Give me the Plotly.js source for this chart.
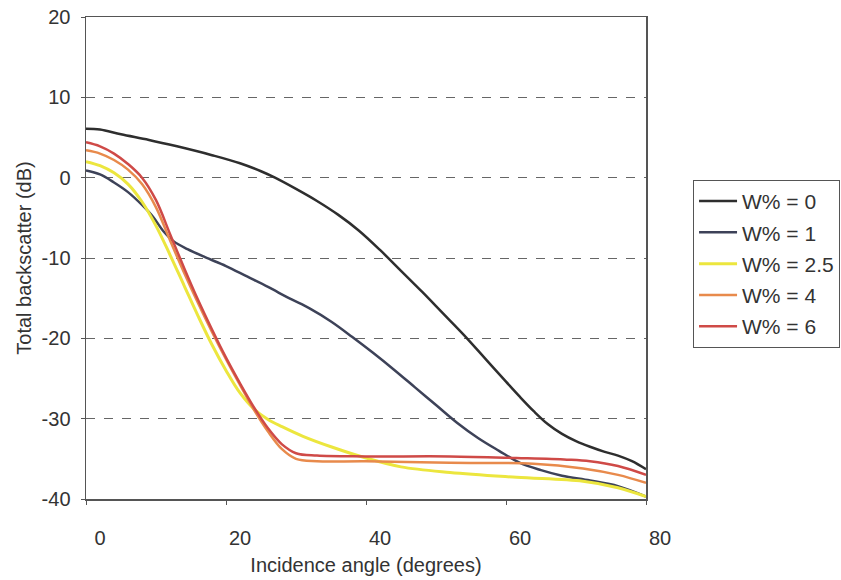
<!DOCTYPE html>
<html>
<head>
<meta charset="utf-8">
<script src="https://cdn.plot.ly/plotly-3.0.1.min.js"></script>
<style>html,body{margin:0;padding:0;background:#fff;}#chart{width:841px;height:580px;}</style>
</head>
<body>
<div id="chart"></div>
<script>
// Series names
const seriesNames = ['W% = 0', 'W% = 1', 'W% = 2.5', 'W% = 4', 'W% = 6'];

// W% = 0
const angleW0 = [0, 2, 5, 9, 13, 18, 22, 25, 27, 30, 33, 36, 39, 42, 45, 48, 51, 54, 57, 60, 62, 64, 66, 68, 70, 72, 74, 76, 78, 80];
const dbW0 = [6.1, 6.0, 5.4, 4.7, 3.9, 2.8, 1.8, 0.8, 0, -1.4, -2.9, -4.6, -6.6, -9.0, -11.6, -14.2, -16.9, -19.6, -22.5, -25.4, -27.3, -29.1, -30.7, -31.9, -32.8, -33.5, -34.1, -34.6, -35.3, -36.3];

// W% = 1
const angleW1 = [0, 2, 4, 6, 8, 9.6, 11, 12.5, 14.5, 17, 20, 23, 26, 29, 32, 35, 38, 41, 44, 47, 50, 53, 56, 59, 62, 65, 68, 72, 76, 80];
const dbW1 = [0.9, 0.4, -0.6, -1.8, -3.4, -4.9, -6.6, -7.9, -8.9, -9.9, -11.0, -12.3, -13.6, -15.0, -16.3, -17.9, -19.8, -21.8, -23.9, -26.1, -28.3, -30.5, -32.4, -34.0, -35.5, -36.4, -37.1, -37.7, -38.4, -39.7];

// W% = 2.5
const angleW25 = [0, 2, 4, 6, 8, 10, 12, 14, 16, 18, 20, 22, 24, 26, 28, 31, 35, 40, 45, 52, 61.5, 71, 76, 80];
const dbW25 = [2.0, 1.5, 0.6, -0.8, -3.0, -6.0, -9.6, -13.4, -17.2, -20.8, -24.0, -26.8, -28.8, -30.1, -31.0, -32.2, -33.5, -34.9, -36.0, -36.7, -37.3, -37.8, -38.6, -39.7];

// W% = 4
const angleW4 = [0, 2, 4, 6, 8, 10, 12, 14, 16, 18, 20, 22, 24, 26, 28, 30, 33, 40, 52, 63.9, 71, 76, 80];
const dbW4 = [3.4, 3.0, 2.2, 1.0, -0.8, -3.7, -7.8, -11.8, -15.6, -19.2, -22.6, -25.8, -28.9, -31.6, -33.8, -35.0, -35.3, -35.3, -35.5, -35.6, -36.2, -37.0, -38.0];

// W% = 6
const angleW6 = [0, 2, 4, 6, 8, 10, 12, 14, 16, 18, 20, 22, 24, 26, 28, 30, 33, 40, 52, 61.5, 68.7, 72, 76, 80];
const dbW6 = [4.4, 3.9, 3.0, 1.7, 0.0, -2.8, -7.0, -11.2, -15.2, -18.9, -22.4, -25.6, -28.6, -31.2, -33.2, -34.3, -34.6, -34.7, -34.7, -34.9, -35.1, -35.3, -35.9, -37.0];

const xTicks = [0, 20, 40, 60, 80];
const yTicks = [-40, -30, -20, -10, 0, 10, 20];

const colors = ['#2e2e2e', '#3d4258', '#ece63e', '#e88a4c', '#cf4a47'];
const xs = [angleW0, angleW1, angleW25, angleW4, angleW6];
const ys = [dbW0, dbW1, dbW25, dbW4, dbW6];

const traces = seriesNames.map((name, i) => ({
  type: 'scatter',
  mode: 'lines',
  name: name,
  x: xs[i],
  y: ys[i],
  legendgroup: 'g' + i,
  line: {color: colors[i], width: i === 2 ? 3 : 2.5, shape: 'spline', smoothing: 1}
}));

const font = {family: 'Liberation Sans, Arial, sans-serif', size: 20, color: '#333'};
const legendFont = {family: 'Liberation Sans, Arial, sans-serif', size: 21, color: '#333'};

const layout = {
  width: 841,
  height: 580,
  margin: {l: 86, r: 195, t: 17, b: 81, autoexpand: false},
  paper_bgcolor: '#fff',
  plot_bgcolor: '#fff',
  font: font,
  showlegend: true,
  legend: {
    x: 1.084, y: 0.662, xanchor: 'left', yanchor: 'top',
    bordercolor: '#555', borderwidth: 1, bgcolor: '#fff',
    font: legendFont, traceorder: 'grouped', tracegroupgap: 1,
    itemwidth: 38
  },
  xaxis: {
    range: [0, 80],
    tickvals: xTicks,
    ticktext: xTicks.map(String),
    showgrid: false, zeroline: false,
    showline: true, mirror: true, linecolor: '#555', linewidth: 1.5,
    ticks: 'outside', ticklen: 4, tickcolor: '#555',
    tickfont: font,
    ticklabelshift: 14,
    ticklabelstandoff: 16,
    title: {text: 'Incidence angle (degrees)', font: font, standoff: 10}
  },
  yaxis: {
    range: [-40, 20],
    tickvals: yTicks,
    ticktext: yTicks.map(String),
    showgrid: true, gridcolor: '#666', griddash: 'dash', gridwidth: 1,
    zeroline: false,
    showline: true, mirror: true, linecolor: '#555', linewidth: 1.5,
    ticks: 'outside', ticklen: 4, tickcolor: '#555',
    tickfont: font,
    ticklabelstandoff: 6,
    title: {text: 'Total backscatter (dB)', font: font, standoff: 4}
  }
};

Plotly.newPlot('chart', traces, layout, {staticPlot: true, displayModeBar: false});
</script>
</body>
</html>
